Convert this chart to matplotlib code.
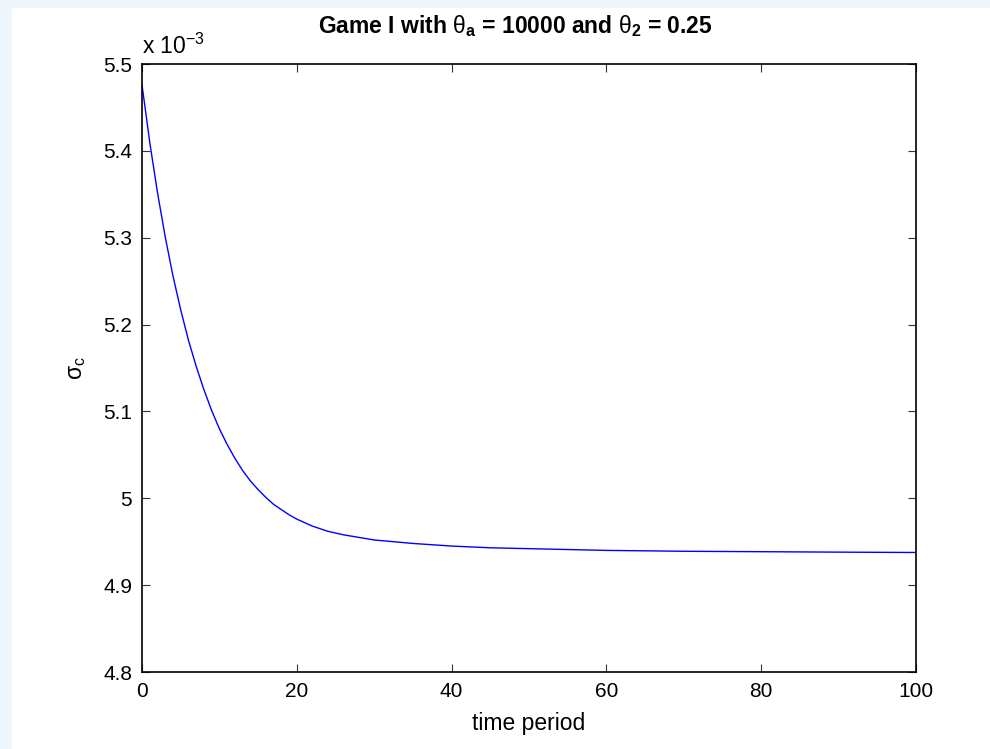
import matplotlib
matplotlib.use("Agg")
import matplotlib.pyplot as plt
from matplotlib.patches import Rectangle

# sigma_c, in units of 1e-3
time_period = [0, 1, 2, 3, 4, 5, 6, 7, 8, 9, 10, 11, 12, 13, 14, 15, 16, 17, 18, 19,
               20, 22, 24, 26, 28, 30, 35, 40, 45, 50, 60, 70, 80, 90, 100]
sigma_c_e3 = [5.476, 5.410, 5.352, 5.301, 5.256, 5.217, 5.182, 5.152, 5.125, 5.101,
              5.080, 5.062, 5.046, 5.032, 5.020, 5.010, 5.001, 4.993, 4.987, 4.981,
              4.976, 4.968, 4.962, 4.958, 4.955, 4.952, 4.948, 4.945, 4.943, 4.942,
              4.940, 4.939, 4.9385, 4.938, 4.9376]

x_ticks = [0, 20, 40, 60, 80, 100]
y_ticks = [4.8, 4.9, 5.0, 5.1, 5.2, 5.3, 5.4, 5.5]
y_tick_labels = ['4.8', '4.9', '5', '5.1', '5.2', '5.3', '5.4', '5.5']

plt.rcParams['font.family'] = ['Liberation Sans', 'DejaVu Sans']
plt.rcParams['mathtext.fontset'] = 'custom'
plt.rcParams['mathtext.rm'] = 'Liberation Sans'
plt.rcParams['mathtext.it'] = 'Liberation Sans:italic'
plt.rcParams['mathtext.bf'] = 'Liberation Sans:bold'
plt.rcParams['mathtext.default'] = 'rm'

fig = plt.figure(figsize=(9.9, 7.49), dpi=100, facecolor='#edf5fd')
# white panel, light blue strip on top and left
fig.patches.append(Rectangle((12 / 990, 0), 1, 1 - 8 / 749, transform=fig.transFigure,
                             facecolor='white', edgecolor='none', zorder=-10))

ax = fig.add_axes([142 / 990, 77 / 749, 774 / 990, 608 / 749])
ax.set_zorder(5)
ax.plot(time_period, sigma_c_e3, color='#0000ff', linewidth=1.0)

ax.set_xlim(0, 100)
ax.set_ylim(4.8, 5.5)
ax.set_xticks(x_ticks)
ax.set_yticks(y_ticks)
ax.set_yticklabels(y_tick_labels)
ax.tick_params(direction='in', length=6, width=0.8, color='#333333',
               top=True, right=True, labelsize=15)
ax.tick_params(axis='x', pad=7)
ax.tick_params(axis='y', pad=7)
for sp in ax.spines.values():
    sp.set_linewidth(1.2)

ax.set_xlabel('time period', fontsize=16.5, labelpad=8)
ax.set_ylabel(r'$\sigma_{c}$', fontsize=16.5, labelpad=11)
ax.set_title(r'Game I with $\theta_{\mathbf{a}}$ = 10000 and $\theta_{\mathbf{2}}$ = 0.25',
             fontsize=16.5, fontweight='bold', pad=22, x=0.482)
ax.text(0, 1.008, r'x 10$^{-3}$', transform=ax.transAxes, fontsize=16.5,
        ha='left', va='bottom')

fig.savefig('out.png', dpi=100, facecolor=fig.get_facecolor())
